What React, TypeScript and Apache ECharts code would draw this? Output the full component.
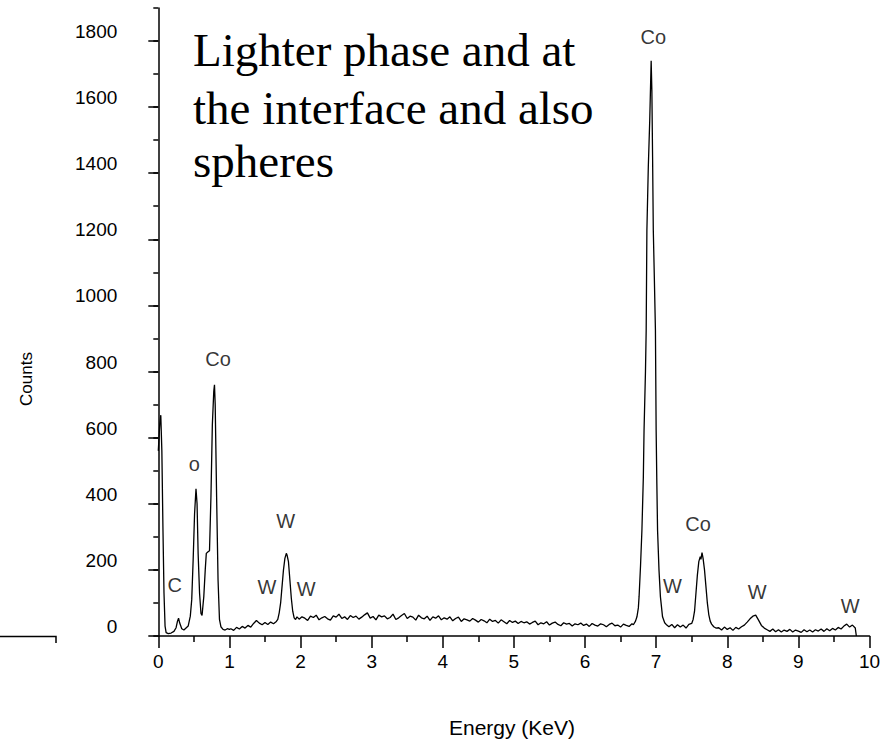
import React, { useEffect, useRef } from "react";
import * as echarts from "echarts";

// ---------- data (energy in keV, counts) ----------
const GRID_STEP = 0.04;

const lowEnergyPeaks: [number, number][] = [
  [0.0, 560], [0.02, 640], [0.035, 668], [0.05, 560], [0.065, 330], [0.08, 130],
  [0.095, 30], [0.11, 10], [0.14, 7], [0.18, 9], [0.22, 14], [0.25, 25], [0.27, 45],
  [0.285, 54], [0.3, 40], [0.33, 22], [0.36, 18], [0.39, 24], [0.42, 30], [0.45, 60],
  [0.47, 110], [0.49, 230], [0.51, 370], [0.53, 445], [0.545, 400], [0.56, 250],
  [0.58, 130], [0.6, 68], [0.615, 62], [0.64, 120], [0.66, 200], [0.675, 250],
  [0.7, 255], [0.72, 258], [0.74, 420], [0.76, 640], [0.78, 740], [0.79, 760],
  [0.8, 700], [0.82, 420], [0.84, 170], [0.86, 50], [0.88, 28], [0.91, 20],
  [0.94, 18], [0.97, 22], [1.0, 20],
];

const preWStart = 1.02;
const preWCounts = [22, 17, 26, 21, 29, 24, 32, 27, 38, 47, 39, 34, 41, 35, 42, 37, 44];

const wPeak: [number, number][] = [
  [1.68, 50], [1.7, 70], [1.72, 100], [1.74, 150], [1.76, 200], [1.78, 235],
  [1.8, 250], [1.81, 245], [1.83, 225], [1.85, 170], [1.87, 115], [1.89, 75],
  [1.91, 55], [1.93, 50], [1.95, 58],
];

const plateauStart = 1.98;
const plateauCounts = [
  51, 58, 54, 47, 60, 56, 63, 49, 55, 59, 52, 48, 61, 57, 66, 53, 58, 50, 62, 56,
  60, 51, 57, 64, 70, 54, 59, 49, 63, 58, 61, 52, 56, 66, 50, 55, 62, 68, 53, 60,
  57, 48, 63, 55, 52, 60, 47, 58, 54, 61, 49, 55, 51, 58, 46, 53, 57, 44, 52, 49,
  45, 53, 48, 42, 50, 46, 40, 51, 44, 47, 39, 49, 43, 37, 47, 41, 45, 38, 44, 40,
  43, 36, 41, 45, 34, 40, 37, 43, 33, 39, 42, 35, 31, 40, 36, 38, 30, 37, 34, 39,
  32, 36, 29, 38, 33, 30, 37, 34, 28, 35, 39, 31, 33, 27, 36, 32, 29, 37,
];

const coKalpha: [number, number][] = [
  [6.68, 34], [6.71, 45], [6.73, 58], [6.75, 85], [6.76, 119], [6.78, 210],
  [6.8, 320], [6.82, 480], [6.83, 623], [6.85, 800], [6.86, 925], [6.87, 1228],
  [6.89, 1420], [6.91, 1560], [6.93, 1740], [6.94, 1650], [6.95, 1450], [6.96, 1228],
  [6.975, 1080], [6.99, 925], [7.0, 623], [7.01, 460], [7.02, 320], [7.04, 200],
  [7.06, 119], [7.09, 58], [7.12, 40], [7.15, 33],
];

const midStart = 7.18;
const midCounts = [28, 35, 25, 34, 27, 33, 24, 35, 38];

const coKbeta: [number, number][] = [
  [7.52, 50], [7.54, 75], [7.56, 130], [7.58, 185], [7.6, 225], [7.62, 240],
  [7.63, 232], [7.645, 252], [7.66, 235], [7.68, 200], [7.7, 150], [7.72, 100],
  [7.74, 65], [7.76, 45], [7.78, 36], [7.81, 28], [7.84, 24],
];

const tailStart = 7.88;
const tailCounts = [
  25, 18, 27, 20, 25, 17, 26, 21, 28, 33, 42, 52, 60, 63, 48, 32, 24, 19, 14, 21,
  13, 19, 12, 18, 14, 20, 12, 18, 15, 11, 19, 13, 18, 12, 19, 15, 21, 14, 22, 16,
  23, 18, 26, 21, 30, 36, 27, 33, 24,
];

const spectrumEnd: [number, number][] = [[9.815, 0]];

const peakLabels = ["Co", "Co", "o", "W", "C", "W", "W", "Co", "W", "W", "W"];
const peakLabelEnergy = [6.96, 0.84, 0.505, 1.79, 0.232, 1.529, 2.08, 7.59, 7.23, 8.42, 9.73];
const peakLabelCounts = [1813, 838, 520, 348, 153, 149, 142, 338, 152, 132, 91];

const yMajorTicks = [0, 200, 400, 600, 800, 1000, 1200, 1400, 1600, 1800];
const xTicks = [0, 1, 2, 3, 4, 5, 6, 7, 8, 9, 10];

const titleLines = ["Lighter phase and at", "the interface and also", "spheres"];
const xAxisTitle = "Energy (KeV)";
const yAxisTitle = "Counts";

// ---------- helpers ----------
const gridSeg = (start: number, counts: number[]): [number, number][] =>
  counts.map((c, i) => [+(start + i * GRID_STEP).toFixed(3), c]);

const spectrum: [number, number][] = [
  ...lowEnergyPeaks,
  ...gridSeg(preWStart, preWCounts),
  ...wPeak,
  ...gridSeg(plateauStart, plateauCounts),
  ...coKalpha,
  ...gridSeg(midStart, midCounts),
  ...coKbeta,
  ...gridSeg(tailStart, tailCounts),
  ...spectrumEnd,
];

const SANS = '"Liberation Sans", Arial, sans-serif';
const SERIF = '"Liberation Serif", "Times New Roman", serif';

export default function App() {
  const ref = useRef<HTMLDivElement>(null);

  useEffect(() => {
    if (!ref.current) return;
    const chart = echarts.init(ref.current, null, { renderer: "svg" });

    const option: any = {
      animation: false,
      backgroundColor: "#ffffff",
      grid: { left: 158.3, right: 14.5, top: 7.9, bottom: 107, containLabel: false },
      xAxis: {
        type: "value",
        min: xTicks[0],
        max: xTicks[xTicks.length - 1],
        interval: 1,
        axisLine: { show: true, onZero: false, lineStyle: { color: "#000", width: 1.5 } },
        axisTick: { show: true, length: 12, lineStyle: { color: "#000", width: 1.5 } },
        minorTick: { show: true, splitNumber: 2, length: 6, lineStyle: { color: "#000", width: 1.5 } },
        splitLine: { show: false },
        minorSplitLine: { show: false },
        axisLabel: { color: "#000", fontSize: 19, fontFamily: SANS, margin: 16 },
      },
      yAxis: [
        {
          type: "value",
          position: "left",
          min: 0,
          max: 1900,
          interval: 200,
          axisLine: { show: true, onZero: false, lineStyle: { color: "#000", width: 1.5 } },
          axisTick: { show: true, length: 10, customValues: yMajorTicks, lineStyle: { color: "#000", width: 1.5 } },
          splitLine: { show: false },
          axisLabel: {
            color: "#000",
            fontSize: 19,
            fontFamily: SANS,
            margin: 41,
            customValues: yMajorTicks,
            verticalAlign: "bottom",
            formatter: (v: number) => String(v),
          },
        },
        {
          type: "value",
          position: "left",
          min: 0,
          max: 1900,
          interval: 100,
          axisLine: { show: false },
          axisTick: { show: true, length: 5, lineStyle: { color: "#000", width: 1.5 } },
          axisLabel: { show: false },
          splitLine: { show: false },
        },
      ],
      series: [
        {
          type: "line",
          data: spectrum,
          yAxisIndex: 0,
          showSymbol: false,
          symbol: "none",
          lineStyle: { color: "#000", width: 1.3 },
          silent: true,
        },
        {
          type: "scatter",
          yAxisIndex: 0,
          symbolSize: 1,
          itemStyle: { color: "transparent" },
          data: peakLabels.map((name, i) => ({ name, value: [peakLabelEnergy[i], peakLabelCounts[i]] })),
          label: {
            show: true,
            position: "inside",
            formatter: (p: any) => p.name,
            color: "#000",
            fontSize: 20,
            fontFamily: SANS,
          },
          silent: true,
        },
      ],
      graphic: [
        ...titleLines.map((t, i) => ({
          type: "text",
          left: 193,
          top: [26, 84, 137][i],
          style: { text: t, fill: "#000", font: `47px ${SERIF}` },
        })),
        {
          type: "text",
          x: 26,
          y: 379,
          rotation: Math.PI / 2,
          style: { text: yAxisTitle, fill: "#000", font: `17px ${SANS}`, align: "center", verticalAlign: "middle" },
        },
        {
          type: "text",
          x: 512,
          y: 727,
          style: { text: xAxisTitle, fill: "#000", font: `21px ${SANS}`, align: "center", verticalAlign: "middle" },
        },
        {
          type: "polyline",
          shape: { points: [[0, 636.5], [56, 636.5], [56, 643]] },
          style: { stroke: "#000", lineWidth: 1.5, fill: "none" },
        },
      ],
    };

    chart.setOption(option);
    return () => chart.dispose();
  }, []);

  return (
    <div
      ref={ref}
      style={{ position: "absolute", left: 0, top: 0, width: 884, height: 743 }}
    />
  );
}
